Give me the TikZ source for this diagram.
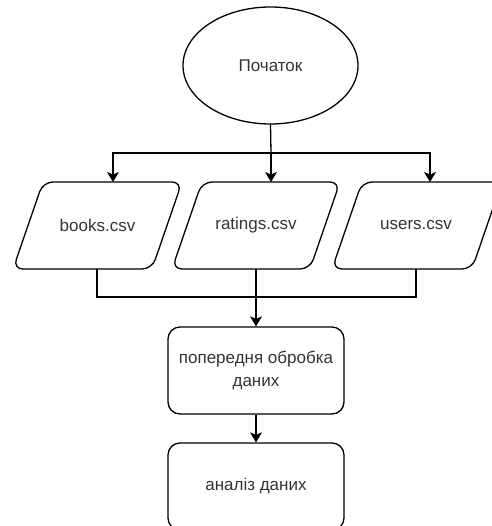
\documentclass[tikz,border=0pt]{standalone}
\usepackage{fontspec}
\setmainfont{Liberation Sans}
\usetikzlibrary{shapes.geometric,arrows.meta}
\begin{document}
\begin{tikzpicture}[x=1pt,y=-1pt,
  shape line/.style={draw=black, line width=1.3pt},
  label text/.style={font=\fontsize{17}{23}\selectfont, text=black!80, align=center},
  link/.style={draw=black, line width=1.3pt},
  flow/.style={link, -{Stealth[length=10pt,width=12pt,inset=2.5pt]}},
  iobox/.style={shape line, rounded corners=10pt},
  procbox/.style={shape line, rectangle, rounded corners=12pt, minimum width=176pt, minimum height=87pt, label text}]
\useasboundingbox (0,0) rectangle (491,526);

% start terminal
\node[shape line, ellipse, minimum width=175pt, minimum height=117pt, inner sep=0pt, label text] (start) at (270.5,65.5) {Початок};

% input data files
\draw[iobox] (13,269) -- (43,182) -- (182,182) -- (152,269) -- cycle;
\node[label text] (books) at (97.5,225.5) {books.csv};
\coordinate (books in) at (113,182);
\coordinate (books out) at (97,269);

\draw[iobox] (172,269) -- (202,182) -- (340,182) -- (310,269) -- cycle;
\node[label text] (ratings) at (256,225.5) {ratings.csv};
\coordinate (ratings in) at (271,182);
\coordinate (ratings out) at (256,269);

\draw[iobox] (332,269) -- (362,182) -- (502,182) -- (472,269) -- cycle;
\node[label text] (users) at (416,225.5) {users.csv};
\coordinate (users in) at (430,182);
\coordinate (users out) at (416,269);

% processing steps
\node[procbox] (prep) at (256,370.5) {попередня обробка\\даних};
\node[procbox] (analysis) at (256,486.5) {аналіз даних};

% fan-out from the start
\coordinate (split) at (271,153);
\draw[link] (start.south) -- (split);
\draw[flow] (split) -| (books in);
\draw[flow] (split) -- (ratings in);
\draw[flow] (split) -| (users in);

% fan-in to preprocessing
\coordinate (merge) at (256,297);
\draw[link] (books out) |- (merge);
\draw[link] (users out) |- (merge);
\draw[flow] (ratings out) -- (prep.north);

\draw[flow] (prep) -- (analysis);
\end{tikzpicture}
\end{document}
